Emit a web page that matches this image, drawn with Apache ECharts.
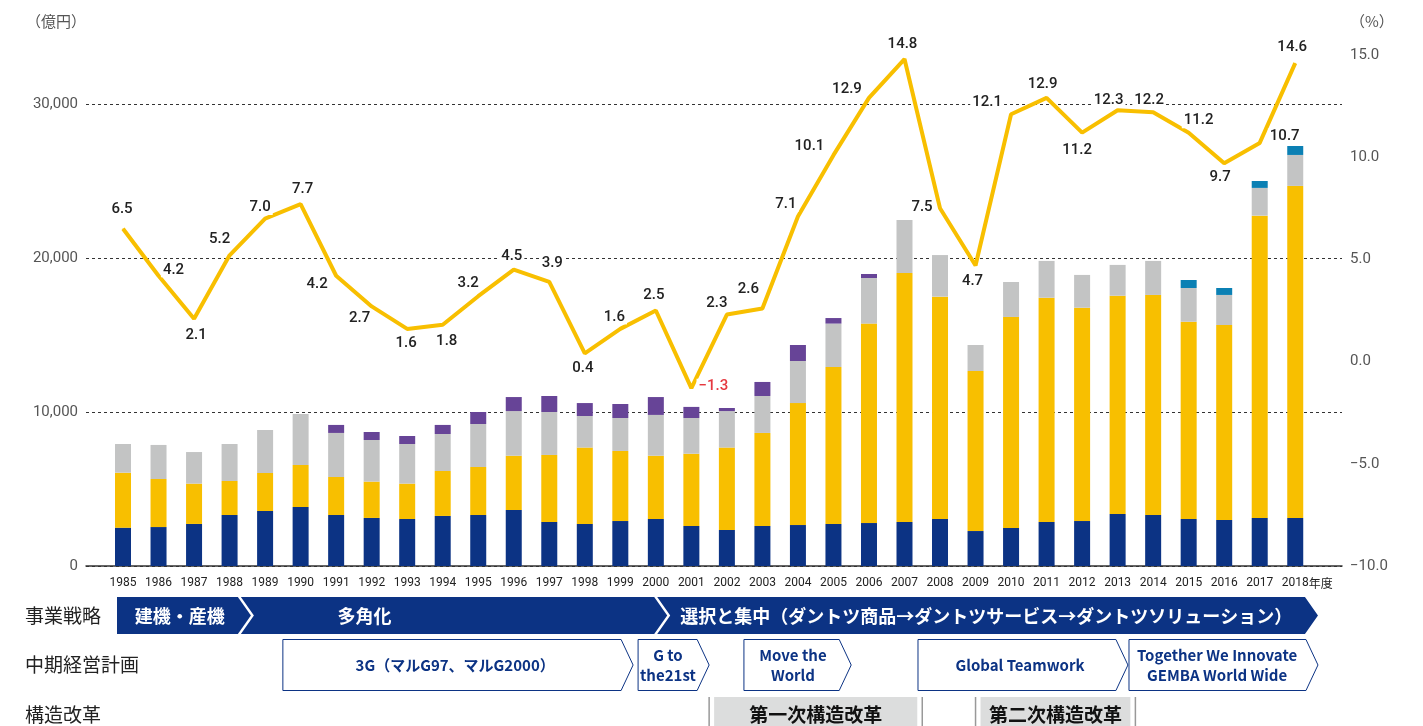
<!DOCTYPE html>
<html>
<head>
<meta charset="utf-8">
<script src="https://cdn.jsdelivr.net/npm/echarts@6/dist/echarts.min.js"></script>
<style>
html, body { margin: 0; padding: 0; background: #fff; }
#chart { width: 1423px; height: 726px; }
</style>
</head>
<body>
<div id="chart"></div>
<script>
const years = ['1985','1986','1987','1988','1989','1990','1991','1992','1993','1994',
  '1995','1996','1997','1998','1999','2000','2001','2002','2003','2004',
  '2005','2006','2007','2008','2009','2010','2011','2012','2013','2014',
  '2015','2016','2017','2018']

// sales by segment (億円)
const navy = [2490,2530,2730,3310,3570,3830,3310,3120,3050,3250,3310,3640,2860,2730,2920,3050,2600,2340,2600,2660,2730,2790,2860,3050,2270,2470,2860,2920,3380,3310,3050,2990,3120,3120]
const yellow = [3570,3120,2620,2210,2470,2730,2470,2360,2300,2920,3120,3520,4350,4960,4550,4110,4690,5350,6040,7920,10190,12950,16160,14440,10390,13700,14560,13850,14170,14290,12810,12660,19630,21560]
const gray = [1860,2210,2050,2400,2790,3310,2860,2700,2570,2400,2790,2900,2790,2050,2140,2650,2320,2370,2400,2730,2820,2960,3450,2700,1690,2270,2390,2130,2000,2210,2190,1950,1800,2010]
const purple = [0,0,0,0,0,0,520,520,520,590,780,910,1040,840,910,1160,720,200,910,1040,360,260,0,0,0,0,0,0,0,0,0,0,0,0]
const teal = [0,0,0,0,0,0,0,0,0,0,0,0,0,0,0,0,0,0,0,0,0,0,0,0,0,0,0,0,0,0,520,450,450,580]

// operating margin (%)
const margin = [6.5,4.2,2.1,5.2,7.0,7.7,4.2,2.7,1.6,1.8,3.2,4.5,3.9,0.4,1.6,2.5,-1.3,2.3,2.6,7.1,10.1,12.9,14.8,7.5,4.7,12.1,12.9,11.2,12.3,12.2,11.2,9.7,10.7,14.6]

// where each margin label sits relative to its point
const labelOffsets = [[-1,-19],[15,-6],[2,17],[-10,-16],[-5,-11],[2,-15],[-19,8],[-12,12],[-1,14],[4,16],
  [-10,-13],[-2,-13],[3,-19],[-2,15],[-6,-12],[-2,-15],[22,-2],[-10,-11],[-14,-19],[-12,-12],
  [-24,-9],[-22,-9],[-2,-15],[-18,-1],[-3,16],[-24,-12],[-4,-14],[-5,18],[-9,-10],[-4,-12],
  [10,-12],[-4,14],[25,-7],[-3,-16]]

// timeline rows under the chart (years as positions on the category axis)
const strategies = [
  { name: '建機・産機', from: 1984.83, to: 1988.6, textAt: 1986.6 },
  { name: '多角化', from: 1988.6, to: 2000.32, textAt: 1991.8 },
  { name: '選択と集中（ダントツ商品→ダントツサービス→ダントツソリューション）', from: 2000.32, to: 2018.64, textAt: 2009.3 }
]
const plans = [
  { name: '3G（マルG97、マルG2000）', from: 1989.5, to: 1999.36, textAt: 1994.35 },
  { name: 'G to\nthe21st', from: 1999.5, to: 2001.5, textAt: 2000.34 },
  { name: 'Move the\nWorld', from: 2002.48, to: 2005.5, textAt: 2003.86 },
  { name: 'Global Teamwork', from: 2007.38, to: 2013.29, textAt: 2010.25 },
  { name: 'Together We Innovate\nGEMBA World Wide', from: 2013.32, to: 2018.64, textAt: 2015.8 }
]
const reforms = [
  { name: '第一次構造改革', from: 2001.5, to: 2007.5 },
  { name: '第二次構造改革', from: 2009.0, to: 2013.5 }
]

const NAVY = '#0C3384'
const YELLOW = '#F8BF00'
const JP = '"Noto Sans CJK JP", "Noto Sans", sans-serif'
const NUM = 'Roboto, "Noto Sans", sans-serif'

const fmtMinus = v => (v < 0 ? '\u2212' + Math.abs(v).toFixed(1) : v.toFixed(1))

const barSeries = (name, data, color) => ({
  name, type: 'bar', stack: 'sales', data,
  xAxisIndex: 1, yAxisIndex: 2,
  barWidth: 16,
  itemStyle: { color },
  emphasis: { disabled: true }
})

const option = {
  animation: false,
  textStyle: { fontFamily: NUM },
  grid: [
    { left: 86, right: 81, top: 55, bottom: 160 },
    { left: 105.25, right: 110, top: 55, bottom: 160 }
  ],
  xAxis: [
    {
      gridIndex: 0, type: 'value', min: 0, max: 1,
      axisLine: { show: true, lineStyle: { color: '#333', width: 1.5 } },
      axisTick: { show: false }, axisLabel: { show: false }, splitLine: { show: false }
    },
    {
      gridIndex: 1, type: 'category', data: years,
      axisLine: { show: false }, axisTick: { show: false },
      axisLabel: {
        interval: 0, margin: 11, color: '#222', fontSize: 12, fontFamily: NUM,
        formatter: v => (v === '2018' ? '{s|}2018{n|年度}' : v),
        rich: {
          s: { width: 24 },
          n: { fontSize: 12, fontFamily: JP, color: '#222' }
        }
      }
    }
  ],
  yAxis: [
    {
      gridIndex: 0, type: 'value', min: 0, max: 33180, interval: 10000,
      axisLine: { show: false }, axisTick: { show: false },
      axisLabel: {
        margin: 8, color: '#555', fontSize: 15, showMaxLabel: false,
        formatter: v => v.toLocaleString('en-US')
      },
      splitLine: { show: true, showMaxLine: false, lineStyle: { color: '#333', type: [3, 3], width: 1 } }
    },
    {
      gridIndex: 0, type: 'value', min: -10, max: 15, interval: 5, position: 'right',
      axisLine: { show: false }, axisTick: { show: false }, splitLine: { show: false },
      axisLabel: { margin: 8, color: '#555', fontSize: 15, formatter: fmtMinus }
    },
    { gridIndex: 1, type: 'value', min: 0, max: 33180, show: false },
    { gridIndex: 1, type: 'value', min: -10, max: 15, show: false, position: 'right' }
  ],
  series: [
    barSeries('navy', navy, NAVY),
    barSeries('yellow', yellow, YELLOW),
    barSeries('gray', gray, '#C3C4C4'),
    barSeries('purple', purple, '#674497'),
    barSeries('teal', teal, '#0B80B4'),
    {
      name: 'margin', type: 'line', xAxisIndex: 1, yAxisIndex: 3, z: 10,
      data: margin.map((v, i) => ({
        value: v,
        label: { offset: labelOffsets[i], color: v < 0 ? '#E5383F' : '#222' }
      })),
      symbol: 'circle', symbolSize: 1, showSymbol: true,
      itemStyle: { color: YELLOW },
      lineStyle: { color: YELLOW, width: 4 },
      label: {
        show: true, position: 'inside', fontSize: 15, fontWeight: 500, fontFamily: NUM,
        backgroundColor: '#fff', padding: [0, 2],
        formatter: p => fmtMinus(p.value)
      },
      emphasis: { disabled: true }
    }
  ]
}

const chart = echarts.init(document.getElementById('chart'))
chart.setOption(option)

// bottom timeline drawn as graphics, placed from the category axis
const c0 = chart.convertToPixel({ xAxisIndex: 1 }, 0)
const c1 = chart.convertToPixel({ xAxisIndex: 1 }, 1)
const band = c1 - c0
const xAt = y => c0 + (y - 1985) * band

const g = []
const rowLabel = (text, y) => g.push({
  type: 'text', x: 25, y,
  style: { text, fill: '#222', fontSize: 19, fontFamily: JP, verticalAlign: 'middle' }
})
g.push({ type: 'text', x: 26, y: 21, style: { text: '（億円）', fill: '#555', fontSize: 15, fontFamily: JP, verticalAlign: 'middle' } })
g.push({ type: 'text', x: 1350, y: 21, style: { text: '（%）', fill: '#555', fontSize: 15, fontFamily: JP, verticalAlign: 'middle' } })
rowLabel('事業戦略', 616)
rowLabel('中期経営計画', 665)
rowLabel('構造改革', 715)

// row 1: filled chevrons
const t1 = 597, b1 = 634, m1 = (t1 + b1) / 2, d1 = 13, gap = 3
strategies.forEach((s, i) => {
  const xl = xAt(s.from), xr = xAt(s.to)
  const left = i === 0
    ? [[xl, b1], [xl, t1]]
    : [[xl - d1 + gap, b1], [xl + gap, m1], [xl - d1 + gap, t1]]
  g.push({
    type: 'polygon',
    shape: { points: left.concat([[xr - d1, t1], [xr, m1], [xr - d1, b1]]) },
    style: { fill: NAVY }
  })
  g.push({
    type: 'text', x: xAt(s.textAt), y: m1 + 1,
    style: { text: s.name, fill: '#fff', fontSize: 18, fontWeight: 'bold', fontFamily: JP, align: 'center', verticalAlign: 'middle' }
  })
})

// row 2: outlined arrows
const t2 = 639.5, b2 = 690.5, m2 = (t2 + b2) / 2, d2 = 12
plans.forEach(p => {
  const xl = xAt(p.from), xr = xAt(p.to)
  g.push({
    type: 'polygon',
    shape: { points: [[xl, t2], [xr - d2, t2], [xr, m2], [xr - d2, b2], [xl, b2]] },
    style: { fill: '#fff', stroke: NAVY, lineWidth: 1 }
  })
  g.push({
    type: 'text', x: xAt(p.textAt), y: m2,
    style: { text: p.name, fill: NAVY, fontSize: 15, fontWeight: 'bold', lineHeight: 20,
      fontFamily: '"Noto Sans CJK JP", Roboto, sans-serif', align: 'center', verticalAlign: 'middle' }
  })
})

// row 3: gray boxes between rules
reforms.forEach(r => {
  const xl = xAt(r.from), xr = xAt(r.to)
  g.push({ type: 'line', shape: { x1: xl, y1: 697, x2: xl, y2: 726 }, style: { stroke: '#999', lineWidth: 1.5 } })
  g.push({ type: 'line', shape: { x1: xr, y1: 697, x2: xr, y2: 726 }, style: { stroke: '#999', lineWidth: 1.5 } })
  g.push({ type: 'rect', shape: { x: xl + 5, y: 697, width: xr - xl - 10, height: 40 }, style: { fill: '#DCDDDD' } })
  g.push({
    type: 'text', x: (xl + xr) / 2, y: 715,
    style: { text: r.name, fill: '#111', fontSize: 19, fontWeight: 'bold', fontFamily: JP, align: 'center', verticalAlign: 'middle' }
  })
})

chart.setOption({ graphic: g })
</script>
</body>
</html>
